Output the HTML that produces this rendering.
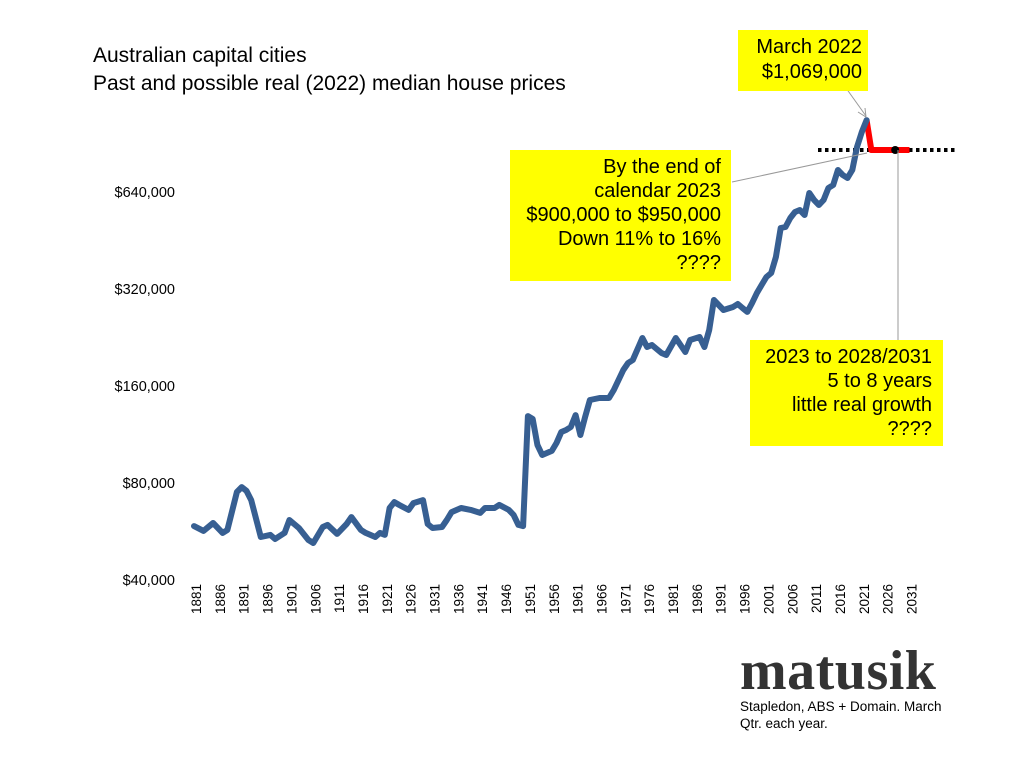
<!DOCTYPE html>
<html><head><meta charset="utf-8"><style>
body{margin:0;background:#fff;}
svg{display:block;font-family:"Liberation Sans",sans-serif;}
</style></head><body>
<svg width="1024" height="768" viewBox="0 0 1024 768">
<text x="93" y="62" font-size="21">Australian capital cities</text>
<text x="93" y="90" font-size="21">Past and possible real (2022) median house prices</text>
<g id="yaxis"></g>
<g id="xaxis"></g>
<line x1="818" y1="150" x2="955" y2="150" stroke="#000" stroke-width="4" stroke-dasharray="3.5,3.5"/>
<g id="marks"></g>
<line x1="732" y1="182" x2="867" y2="153" stroke="#999" stroke-width="1"/>
<line x1="898" y1="150" x2="898" y2="340" stroke="#999" stroke-width="1"/>
<line x1="846" y1="88" x2="866" y2="116" stroke="#999" stroke-width="1"/>
<polyline points="858,112 866,117 865,108" fill="none" stroke="#999" stroke-width="1"/>
<g>
<rect x="738" y="30" width="130" height="61" fill="#ffff00"/>
<text x="862" y="53" font-size="20" text-anchor="end">March 2022</text>
<text x="862" y="78" font-size="20" text-anchor="end">$1,069,000</text>
</g>
<g font-size="20" text-anchor="end">
<rect x="510" y="150" width="221" height="131" fill="#ffff00"/>
<text x="721" y="173">By the end of</text>
<text x="721" y="197">calendar 2023</text>
<text x="721" y="221">$900,000 to $950,000</text>
<text x="721" y="245">Down 11% to 16%</text>
<text x="721" y="269">????</text>
</g>
<g font-size="20" text-anchor="end">
<rect x="750" y="340" width="193" height="106" fill="#ffff00"/>
<text x="932" y="363">2023 to 2028/2031</text>
<text x="932" y="387">5 to 8 years</text>
<text x="932" y="411">little real growth</text>
<text x="932" y="435">????</text>
</g>
<text x="740" y="689" font-family="Liberation Serif,serif" font-weight="bold" font-size="56" letter-spacing="0.5" fill="#333">matusik</text>
<text x="740" y="711" font-size="13.5">Stapledon, ABS + Domain.  March</text>
<text x="740" y="728" font-size="13.5">Qtr. each year.</text>
</svg>
<script>
const years=[1881,1883,1885,1887,1888,1890,1891,1892,1893,1895,1897,1898,1900,1901,1903,1905,1906,1908,1909,1911,1913,1914,1916,1917,1919,1920,1921,1922,1923,1924,1926,1927,1929,1930,1931,1933,1934,1935,1937,1939,1941,1942,1944,1945,1947,1948,1949,1950,1951,1952,1953,1954,1956,1957,1958,1959,1960,1961,1962,1963,1964,1966,1968,1969,1971,1972,1973,1975,1976,1977,1979,1980,1982,1984,1985,1987,1988,1989,1990,1992,1994,1995,1996,1997,1998,1999,2000,2001,2002,2003,2004,2005,2006,2007,2008,2009,2010,2011,2012,2013,2014,2015,2016,2017,2018,2019,2020,2021,2022];
const prices=[58800,56800,60100,56000,57200,75000,77700,75600,70800,54400,55200,53600,56000,61400,58000,53200,52100,58400,59300,55600,59700,62700,57200,56000,54400,56000,55200,66900,69800,68400,66000,69300,70800,59700,58000,58400,61400,65000,66900,66000,64600,66900,66900,68400,66000,63700,59300,58800,129000,126400,105000,97700,100600,106500,115200,116800,119400,130000,112700,128200,144800,146800,146800,155500,179400,188600,192700,225500,211400,214500,202500,199700,225500,204000,222300,227100,211400,238700,295800,275500,281400,287400,279400,271600,289500,311000,329300,348700,358800,402300,494900,498400,531600,554900,562700,543100,635500,604500,583200,604500,658500,672800,749000,722500,707300,749000,882800,982800,1070000];
const forecastYears=[2022,2023,2031];
const forecastPrices=[1070000,864000,864000];
const dotYear=2028;
const yTicks=[40000,80000,160000,320000,640000];
const yTickLabels=["$40,000","$80,000","$160,000","$320,000","$640,000"];
const xTickYears=[];for(let y=1881;y<=2031;y+=5)xTickYears.push(y);
const NS="http://www.w3.org/2000/svg";
const svg=document.querySelector('svg');
const X=yr=>194+(yr-1881)*4.77;
const Y=v=>580-97*Math.log2(v/40000);
function mk(t,a,p){const e=document.createElementNS(NS,t);for(const k in a)e.setAttribute(k,a[k]);(p||svg).appendChild(e);return e;}
const ya=document.getElementById('yaxis'),xa=document.getElementById('xaxis'),marks=document.getElementById('marks');
yTicks.forEach((v,i)=>{const t=mk('text',{x:175,y:Y(v)+5,'font-size':14.5,'text-anchor':'end'},ya);t.textContent=yTickLabels[i];

});
xTickYears.forEach(yr=>{const x=X(yr)+2;const t=mk('text',{x:0,y:0,'font-size':13.5,'text-anchor':'end',transform:`translate(${x+5},584) rotate(-90)`},xa);t.textContent=yr;

});
const fp=forecastYears.map((y,i)=>X(y)+','+Y(forecastPrices[i])).join(' ');
const red=mk('polyline',{points:fp,fill:'none',stroke:'red','stroke-width':6,'stroke-linejoin':'round'},marks);


const pts=years.map((y,i)=>X(y).toFixed(1)+','+Y(prices[i]).toFixed(1)).join(' ');
const line=mk('polyline',{points:pts,fill:'none',stroke:'#375f92','stroke-width':6,'stroke-linejoin':'round','stroke-linecap':'round'},marks);


const dot=mk('circle',{cx:X(dotYear),cy:Y(forecastPrices[2]),r:4,fill:'#000'},marks);


</script>
</body></html>
